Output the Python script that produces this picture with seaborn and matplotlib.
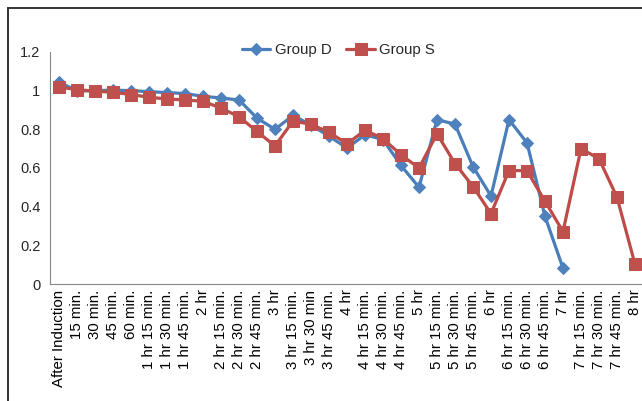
import numpy as np
import matplotlib
matplotlib.use('Agg')
import matplotlib.pyplot as plt
import seaborn as sns
from matplotlib.patches import Rectangle
from matplotlib.ticker import FixedLocator, FormatStrFormatter

categories = ['After Induction', '15 min.', '30 min.', '45 min.', '60 min.',
              '1 hr 15 min.', '1 hr 30 min.', '1 hr 45 min.', '2 hr',
              '2 hr 15 min.', '2 hr 30 min.', '2 hr 45 min.', '3 hr',
              '3 hr 15 min.', '3 hr 30 min', '3 hr 45 min.', '4 hr',
              '4 hr 15 min.', '4 hr 30 min.', '4 hr 45 min.', '5 hr',
              '5 hr 15 min.', '5 hr 30 min.', '5 hr 45 min.', '6 hr',
              '6 hr 15 min.', '6 hr 30 min.', '6 hr 45 min.', '7 hr',
              '7 hr 15 min.', '7 hr 30 min.', '7 hr 45 min.', '8 hr']

group_d = [1.045, 0.998, 1.0, 1.003, 1.0, 0.995, 0.99, 0.985, 0.971,
           0.962, 0.952, 0.858, 0.80, 0.872, 0.822, 0.765, 0.703,
           0.772, 0.747, 0.613, 0.50, 0.85, 0.827, 0.607, 0.455,
           0.85, 0.73, 0.35, 0.082, np.nan, np.nan, np.nan, np.nan]

group_s = [1.018, 1.006, 0.997, 0.992, 0.98, 0.966, 0.957, 0.952, 0.945,
           0.91, 0.865, 0.789, 0.714, 0.843, 0.826, 0.785, 0.725,
           0.795, 0.752, 0.668, 0.60, 0.777, 0.623, 0.504, 0.364,
           0.587, 0.586, 0.428, 0.271, 0.70, 0.648, 0.449, 0.102]

sns.set_style('white')
plt.rcParams['font.family'] = ['Liberation Sans', 'DejaVu Sans']
plt.rcParams['font.size'] = 10

fig = plt.figure(figsize=(6.42, 4.01), dpi=100)
ax = fig.add_axes([50 / 642, 1 - 284 / 401, 594 / 642, 232 / 401])

# outer chart frame (cut off at right and bottom)
fig.patches.append(Rectangle((8 / 642, -0.1), 2, 1.1 - 8 / 401, transform=fig.transFigure,
                             fill=False, edgecolor='#333333', linewidth=1.4))

x = np.arange(len(categories))
sns.lineplot(x=x, y=group_d, ax=ax, color='#4a7ebb', linewidth=2.3, marker='D',
             markersize=6.5, markerfacecolor='#4f81bd', markeredgecolor='#4f81bd',
             label='Group D', sort=False)
sns.lineplot(x=x, y=group_s, ax=ax, color='#be4b48', linewidth=2.3, marker='s',
             markersize=8, markerfacecolor='#c0504d', markeredgecolor='#c0504d',
             label='Group S', sort=False)

ax.set_xlim(-0.5, len(categories) - 0.5)
ax.set_ylim(0, 1.2)
ax.set_yticks(np.arange(0, 1.21, 0.2))
ax.yaxis.set_major_formatter(FormatStrFormatter('%g'))
ax.set_xticks(x)
ax.set_xticklabels(categories, rotation=90)
ax.xaxis.set_minor_locator(FixedLocator(np.arange(-0.5, len(categories), 1)))
ax.tick_params(axis='x', which='major', length=0, pad=4, labelsize=10.8, colors='#000000')
ax.tick_params(axis='x', which='minor', length=4, color='#888888', width=0.8, direction='out')
ax.tick_params(axis='y', which='major', length=4, color='#888888', width=0.8, direction='out',
               labelsize=10.5, pad=3)

for side in ['top', 'right']:
    ax.spines[side].set_visible(False)
for side in ['left', 'bottom']:
    ax.spines[side].set_color('#888888')
    ax.spines[side].set_linewidth(0.8)
ax.grid(False)
ax.patch.set_alpha(0)

handles, labels = ax.get_legend_handles_labels()
ax.get_legend().remove()
fig.legend(handles, labels, loc='center', bbox_to_anchor=(0.527, 0.875), ncol=2,
           frameon=False, fontsize=10.8, handlelength=1.9, columnspacing=1.0,
           handletextpad=0.3)

plt.savefig('out.png', dpi=100)
